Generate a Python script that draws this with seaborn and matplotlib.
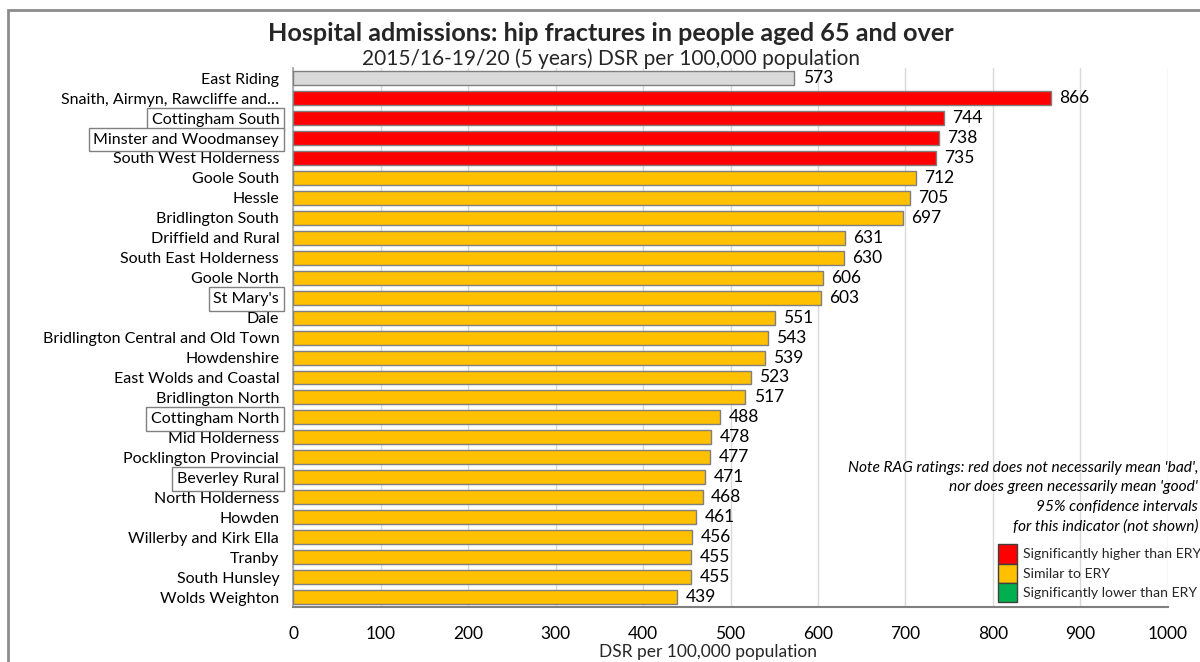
import matplotlib
matplotlib.use("Agg")
import matplotlib.pyplot as plt
import matplotlib.patches as mpatches
import seaborn as sns
import pandas as pd

areas = [
    "East Riding",
    "Snaith, Airmyn, Rawcliffe and\u2026",
    "Cottingham South",
    "Minster and Woodmansey",
    "South West Holderness",
    "Goole South",
    "Hessle",
    "Bridlington South",
    "Driffield and Rural",
    "South East Holderness",
    "Goole North",
    "St Mary's",
    "Dale",
    "Bridlington Central and Old Town",
    "Howdenshire",
    "East Wolds and Coastal",
    "Bridlington North",
    "Cottingham North",
    "Mid Holderness",
    "Pocklington Provincial",
    "Beverley Rural",
    "North Holderness",
    "Howden",
    "Willerby and Kirk Ella",
    "Tranby",
    "South Hunsley",
    "Wolds Weighton",
]
dsr = [573, 866, 744, 738, 735, 712, 705, 697, 631, 630, 606, 603, 551, 543,
       539, 523, 517, 488, 478, 477, 471, 468, 461, 456, 455, 455, 439]
rating = ["ERY", "Higher", "Higher", "Higher", "Higher"] + ["Similar"] * 22
boxed_areas = ["Cottingham South", "Minster and Woodmansey", "St Mary's",
               "Cottingham North", "Beverley Rural"]
x_ticks = [0, 100, 200, 300, 400, 500, 600, 700, 800, 900, 1000]

rag_colors = {"ERY": "#D9D9D9", "Higher": "#FF0000",
              "Similar": "#FFC000", "Lower": "#00B050"}
legend_labels = [("Higher", "Significantly higher than ERY"),
                 ("Similar", "Similar to ERY"),
                 ("Lower", "Significantly lower than ERY")]

df = pd.DataFrame({"area": areas, "dsr": dsr, "rating": rating})

sns.set_theme(style="white")
plt.rcParams["font.family"] = ["Lato", "DejaVu Sans"]

fig = plt.figure(figsize=(12, 6.62), dpi=100)
ax = fig.add_axes([0.2442, 0.0831, 0.7291, 0.8139])

sns.barplot(data=df, x="dsr", y="area", hue="rating", palette=rag_colors,
            saturation=1, dodge=False, legend=False, width=0.7,
            edgecolor="#7F7F7F", linewidth=1.0, ax=ax, zorder=3)

ax.set_xlim(0, 1000)
ax.set_ylim(len(areas) - 0.5, -0.5)
ax.set_xticks(x_ticks)
ax.set_xticklabels([str(t) for t in x_ticks], fontsize=12.5, color="#000000")
ax.tick_params(axis="x", length=0, pad=14)
ax.tick_params(axis="y", length=0, pad=10)
ax.grid(axis="x", color="#D9D9D9", linewidth=1.0, zorder=0)
ax.grid(axis="y", visible=False)
for side in ["top", "right"]:
    ax.spines[side].set_visible(False)
ax.spines["left"].set_color("#A6A6A6")
ax.spines["bottom"].set_color("#808080")
ax.spines["bottom"].set_linewidth(1.5)
ax.set_ylabel("")
ax.set_xlabel("DSR per 100,000 population", fontsize=12.5)
ax.xaxis.set_label_coords((708 - 293) / 875, -0.068)

for lbl in ax.get_yticklabels():
    lbl.set_fontsize(11.5)
    lbl.set_color("#000000")
    if lbl.get_text() in boxed_areas:
        lbl.set_bbox(dict(boxstyle="square,pad=0.3", facecolor="white",
                          edgecolor="#808080", linewidth=1.0))

for container in ax.containers:
    ax.bar_label(container, fmt="%d", padding=6, fontsize=12.5, color="#000000")

fig.text(0.509, 0.949, "Hospital admissions: hip fractures in people aged 65 and over",
         ha="center", va="center", fontsize=18.2, fontweight="bold")
fig.text(0.509, 0.911, "2015/16-19/20 (5 years) DSR per 100,000 population",
         ha="center", va="center", fontsize=15)

fig.text(0.9985, 0.304,
         "Note RAG ratings: red does not necessarily mean 'bad',\n"
         "nor does green necessarily mean 'good'\n"
         "95% confidence intervals\n"
         "for this indicator (not shown)",
         ha="right", va="top", fontsize=11.2, style="italic",
         multialignment="right", linespacing=1.5, color="#000000")

handles = [mpatches.Patch(facecolor=rag_colors[k], edgecolor="#404040", linewidth=1.0)
           for k, _ in legend_labels]
fig.legend(handles, [t for _, t in legend_labels], loc="upper left",
           bbox_to_anchor=(0.832, 0.178), frameon=False, fontsize=10.1,
           handlelength=1.3, handleheight=1.75, labelspacing=0.0,
           handletextpad=0.45, borderpad=0, borderaxespad=0,
           labelcolor="#262626")

# outer frame of the chart area
fig.patches.append(mpatches.Rectangle((8 / 1200, -0.1), 2.0, 1.085,
                                      transform=fig.transFigure, fill=False,
                                      edgecolor="#8C8C8C", linewidth=2.0))

fig.savefig("out.png", dpi=100, facecolor="white")
